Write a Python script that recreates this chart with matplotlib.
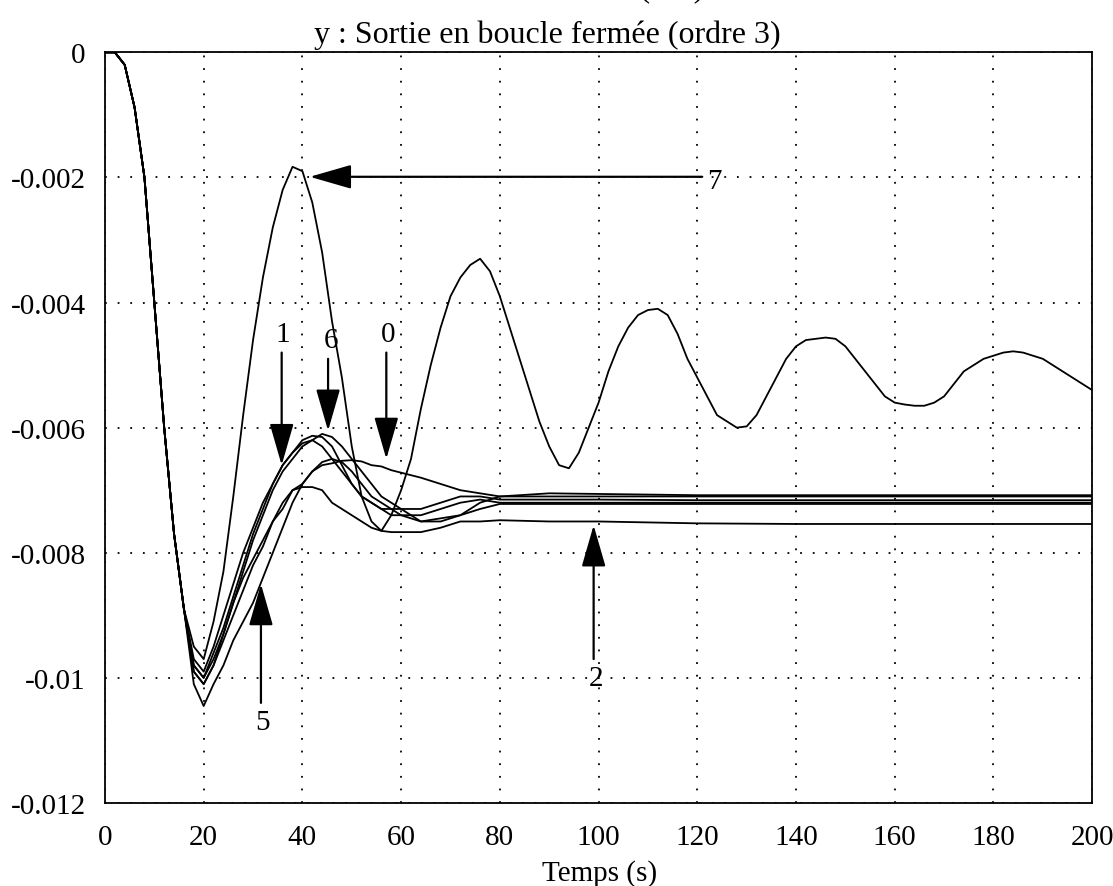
import matplotlib
matplotlib.use('Agg')
import matplotlib.pyplot as plt

plt.rcParams['font.family'] = ['Liberation Serif', 'DejaVu Serif']

# Time axis for the oscillating curve (order 7)
t7 = list(range(0, 201, 2))
y7 = [0, 0, -0.0002, -0.00088, -0.0020, -0.0040, -0.0060, -0.0077, -0.0089, -0.0095,
      -0.0097, -0.0091, -0.0083, -0.0071, -0.0058, -0.0046, -0.0036, -0.0028, -0.0022, -0.00183,
      -0.0019, -0.0024, -0.0032, -0.0043, -0.0052, -0.0063, -0.0071, -0.0075, -0.00765, -0.0074,
      -0.0070, -0.0065, -0.0057, -0.0050, -0.0044, -0.0039, -0.0036, -0.0034, -0.0033, -0.0035,
      -0.0039, -0.0044, -0.0049, -0.0054, -0.0059, -0.0063, -0.0066, -0.00665, -0.0064, -0.0060,
      -0.0056, -0.0051, -0.0047, -0.0044, -0.0042, -0.00412, -0.0041, -0.0042, -0.0045, -0.0049,
      -0.0052, -0.0055, -0.0058, -0.0059, -0.0060, -0.00598, -0.0058, -0.0055, -0.0052, -0.0049,
      -0.0047, -0.0046, -0.00458, -0.00456, -0.00458, -0.0047, -0.0049, -0.0051, -0.0053, -0.0055,
      -0.0056, -0.00563, -0.00565, -0.00565, -0.0056, -0.0055, -0.0053, -0.0051, -0.0050, -0.0049,
      -0.00485, -0.0048, -0.00478, -0.0048, -0.00485, -0.0049, -0.0050, -0.0051, -0.0052, -0.0053,
      -0.0054]

# Time axis for the other orders
tc = [0, 2, 4, 6, 8, 10, 12, 14, 16, 18, 20, 22, 24, 26, 28, 30, 32, 34, 36, 38, 40,
      42, 44, 46, 48, 50, 52, 54, 56, 58, 60, 64, 68, 72, 76, 80, 90, 100, 120, 140, 160, 180, 200]
start = [0, 0, -0.0002, -0.00088, -0.0020, -0.0040, -0.0060, -0.0077, -0.0089]

y0 = start + [-0.0099, -0.0101, -0.0098, -0.0093, -0.0088, -0.0084, -0.0081, -0.0078, -0.0075, -0.0073,
              -0.0070, -0.0069, -0.0067, -0.0066, -0.00657, -0.00653, -0.00652, -0.00654, -0.0066,
              -0.00662, -0.00668, -0.00672, -0.0068, -0.0069, -0.0070, -0.00705, -0.0071, -0.0071,
              -0.0071, -0.0071, -0.0071, -0.0071, -0.0071, -0.0071]
y1 = start + [-0.0097, -0.0099, -0.0095, -0.0090, -0.0085, -0.0080, -0.0076, -0.0072, -0.0069, -0.0066,
              -0.0064, -0.00625, -0.0062, -0.0063, -0.0065, -0.0067, -0.0069, -0.0071, -0.0072,
              -0.0073, -0.0073, -0.0073, -0.0073, -0.0072, -0.0071, -0.0071, -0.00715, -0.00715,
              -0.00715, -0.00716, -0.00716, -0.00716, -0.00716, -0.00716]
y2 = start + [-0.0099, -0.0101, -0.0098, -0.0094, -0.0090, -0.0086, -0.0082, -0.0079, -0.0075, -0.0072,
              -0.0070, -0.00695, -0.00695, -0.0070, -0.0072, -0.0073, -0.0074, -0.0075, -0.0076,
              -0.00765, -0.00767, -0.00767, -0.00767, -0.0076, -0.0075, -0.0075, -0.00748, -0.0075,
              -0.0075, -0.00753, -0.00754, -0.00754, -0.00754, -0.00754]
y3 = start + [-0.0098, -0.0100, -0.0096, -0.0092, -0.0087, -0.0082, -0.0077, -0.0073, -0.0069, -0.0066,
              -0.0064, -0.0062, -0.00613, -0.00615, -0.0063, -0.0066, -0.0069, -0.0071, -0.0072,
              -0.0073, -0.0074, -0.0074, -0.0074, -0.0073, -0.0072, -0.00715, -0.0072, -0.0072,
              -0.0072, -0.0072, -0.0072, -0.0072, -0.0072, -0.0072]
y5 = start + [-0.0101, -0.01045, -0.0101, -0.0098, -0.0094, -0.0091, -0.0088, -0.0084, -0.0080, -0.0076,
              -0.0072, -0.0069, -0.0067, -0.00655, -0.0065, -0.00655, -0.0067, -0.0069, -0.0071,
              -0.0072, -0.0073, -0.0074, -0.0075, -0.00745, -0.0074, -0.0073, -0.00722, -0.00722,
              -0.00722, -0.00722, -0.00722, -0.00722, -0.00722, -0.00722]
y6 = start + [-0.0098, -0.0100, -0.0097, -0.0093, -0.0088, -0.0083, -0.0078, -0.0074, -0.0070, -0.0067,
              -0.0065, -0.0063, -0.0062, -0.0061, -0.00615, -0.0063, -0.0065, -0.0067, -0.0069,
              -0.0071, -0.0072, -0.0073, -0.0075, -0.0075, -0.0074, -0.0072, -0.0071, -0.00705,
              -0.00706, -0.00708, -0.00708, -0.00708, -0.00708, -0.00708]

xticks = [0, 20, 40, 60, 80, 100, 120, 140, 160, 180, 200]
yticks = [0, -0.002, -0.004, -0.006, -0.008, -0.01, -0.012]
ytick_labels = ['0', '-0.002', '-0.004', '-0.006', '-0.008', '-0.01', '-0.012']

# arrows: label, label position, arrow start, arrow tip (data coords)
arrows = [
    ('7', (123.5, -0.00205), (121.0, -0.00199), (41.5, -0.00199)),
    ('1', (36.0, -0.0045), (35.8, -0.0048), (35.8, -0.0066)),
    ('6', (45.8, -0.0046), (45.2, -0.0049), (45.2, -0.00605)),
    ('0', (57.3, -0.0045), (57.0, -0.0048), (57.0, -0.0065)),
    ('2', (99.5, -0.0100), (99.0, -0.0097), (99.0, -0.00756)),
    ('5', (32.0, -0.0107), (31.6, -0.0104), (31.6, -0.0085)),
]

fig = plt.figure(figsize=(11.13, 8.87), dpi=100)
ax = fig.add_axes([0.0943, 0.0936, 0.887, 0.8463])

for y in [y0, y1, y2, y3, y5, y6]:
    ax.plot(tc, y, color='black', lw=1.3)
ax.plot(t7, y7, color='black', lw=1.3)

for lab, lpos, a0, a1 in arrows:
    ax.annotate('', xy=a1, xytext=a0,
                arrowprops=dict(arrowstyle='-|>,head_length=2.6,head_width=0.75',
                                mutation_scale=10, color='black', lw=1.6,
                                shrinkA=0, shrinkB=0))
    ax.text(lpos[0], lpos[1], lab, fontsize=21, ha='center', va='center')

ax.set_xlim(0, 200)
ax.set_ylim(-0.012, 0)
ax.set_xticks(xticks)
ax.set_yticks(yticks)
ax.set_yticklabels(ytick_labels)
ax.tick_params(length=0, labelsize=21)
ax.tick_params(axis='x', pad=15)
ax.tick_params(axis='y', pad=14)
ax.grid(True, color='black', linestyle=(0, (1, 6)), lw=1.3)
for s in ax.spines.values():
    s.set_linewidth(1.3)

fig.text(0.539, 0.0, 'Temps (s)', fontsize=21, ha='center', va='bottom')
fig.text(0.492, 0.96, 'y : Sortie en boucle fermée (ordre 3)', fontsize=23,
         ha='center', va='center')
fig.text(0.548, 0.995, 'u : retard (n.T)', fontsize=23, ha='center', va='bottom')

fig.savefig('out.png', dpi=100)
